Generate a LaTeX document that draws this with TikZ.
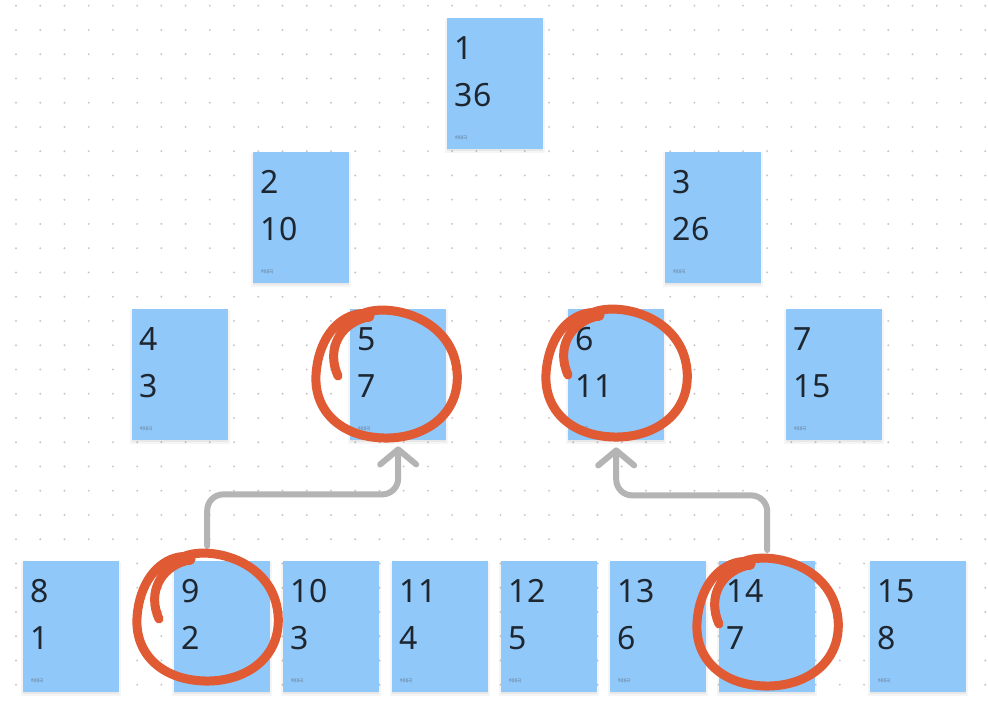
\documentclass[tikz,border=0pt]{standalone}
\usepackage{fontspec}
\setmainfont{Noto Sans}
\newfontfamily\krfont{Noto Sans CJK KR}
\usetikzlibrary{arrows.meta}
\definecolor{stickyblue}{RGB}{144,200,249}
\definecolor{textdark}{RGB}{30,38,48}
\definecolor{lblgray}{RGB}{95,110,130}
\definecolor{dotgray}{RGB}{200,200,200}
\definecolor{conngray}{RGB}{180,180,180}
\definecolor{markred}{RGB}{224,90,52}
\tikzset{
  sticky/.style={rectangle, fill=stickyblue, draw=none, minimum width=96pt, minimum height=131pt, inner sep=0pt, anchor=north west},
  num/.style={anchor=west, inner sep=0pt, text=textdark, font=\fontsize{32}{38}\selectfont},
  lbl/.style={anchor=center, inner sep=0pt, text=lblgray, font=\krfont\fontsize{4.5}{5}\selectfont},
  conn/.style={draw=conngray, line width=6pt, line cap=round, line join=round, rounded corners=16pt, -{Straight Barb[length=15pt,width=36pt,round]}},
  redloop/.style={draw=markred, line width=9pt, line cap=round, line join=round},
}
\newcommand\sticky[5]{%
  \fill[black,opacity=0.04] (#2-2,#3+1) rectangle ++(100,134);
  \fill[black,opacity=0.05] (#2,#3+2) rectangle ++(96,131);
  \node[sticky] (#1) at (#2,#3) {};
  \node[num] at ([shift={(7.5,30)}]#1.north west) {#4};
  \node[num] at ([shift={(7.5,77)}]#1.north west) {#5};
  \node[lbl] at ([shift={(14,120)}]#1.north west) {허대극};
}
\newcommand\redmark[2]{%
  \draw[redloop, shift={(#1,#2)}]
    (-22,-60) .. controls (5,-70) and (66,-55) .. (71,-2)
    .. controls (75,42) and (38,66) .. (-2,65)
    .. controls (-45,64) and (-72,38) .. (-70,2)
    .. controls (-68,-32) and (-50,-55) .. (-28,-59)
    .. controls (-16,-61) and (-13,-57) .. (-22,-55)
    .. controls (-46,-48) and (-60,-24) .. (-48,3);
  \draw[markred, line width=11pt, line cap=round, shift={(#1,#2)}] (-30,-57) -- (-17,-57);
}
\begin{document}
\begin{tikzpicture}[x=1pt,y=-1pt]
\useasboundingbox (0,0) rectangle (988,704);
\fill[white] (0,0) rectangle (988,704);
\foreach \i in {0,...,40}{
  \foreach \j in {0,...,28}{
    \fill[dotgray] (16+\i*24.23, 5.7+\j*24.25) circle[radius=1.1pt];
  }
}
\sticky{n1}{447}{18}{1}{36}
\sticky{n2}{253}{152}{2}{10}
\sticky{n3}{665}{152}{3}{26}
\sticky{n4}{132}{309}{4}{3}
\sticky{n5}{350}{309}{5}{7}
\sticky{n6}{568}{309}{6}{11}
\sticky{n7}{786}{309}{7}{15}
\sticky{n8}{23}{561}{8}{1}
\sticky{n9}{174}{561}{9}{2}
\sticky{n10}{283}{561}{10}{3}
\sticky{n11}{392}{561}{11}{4}
\sticky{n12}{501}{561}{12}{5}
\sticky{n13}{610}{561}{13}{6}
\sticky{n14}{719}{561}{14}{7}
\sticky{n15}{870}{561}{15}{8}
\draw[conn] ([xshift=-15pt,yshift=15pt]n9.north) |- ([yshift=-54pt]n5.south) -- ([yshift=-6pt]n5.south);
\draw[conn] ([yshift=11pt]n14.north) |- ([yshift=-55pt]n6.south) -- ([yshift=-7pt]n6.south);
\redmark{386}{373}
\redmark{616}{372}
\redmark{207}{616}
\redmark{767}{621}
\end{tikzpicture}
\end{document}
